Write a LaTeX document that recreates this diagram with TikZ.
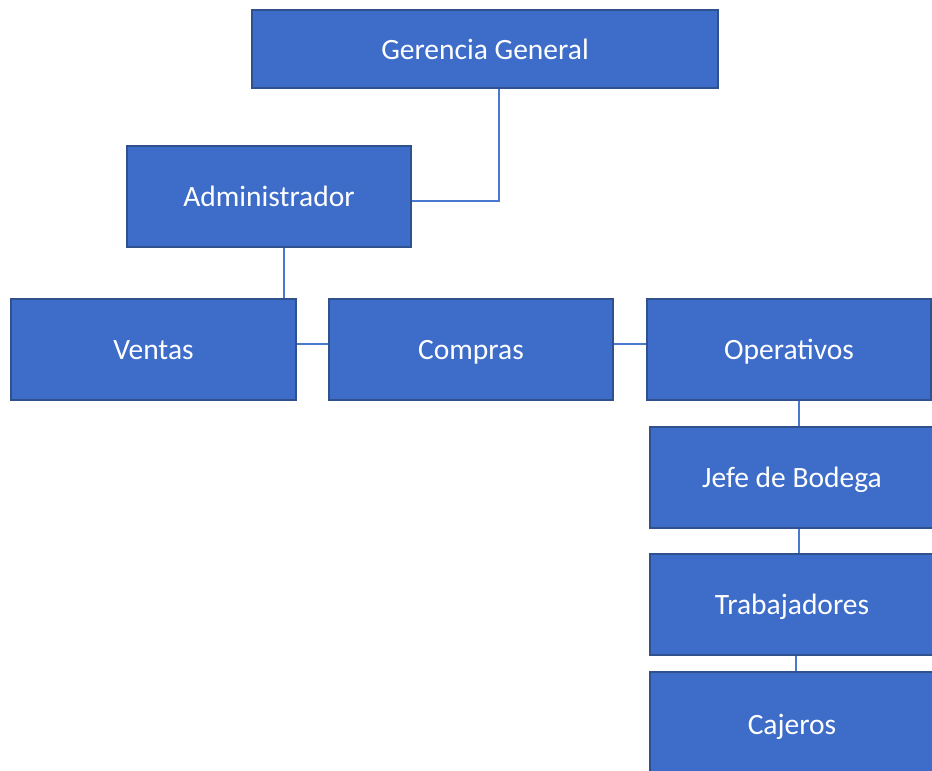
\documentclass[tikz,border=0pt]{standalone}
\usepackage{fontspec}
\setmainfont{Carlito}

\definecolor{boxfill}{HTML}{3D6CC9}
\definecolor{boxline}{HTML}{2F528F}
\definecolor{linkline}{HTML}{4A78CF}

\begin{document}
\begin{tikzpicture}[x=1pt, y=1pt,
    puesto/.style={rectangle, draw=boxline, line width=2pt, fill=boxfill,
      text=white, font=\fontsize{29.5}{34}\selectfont,
      text height=24pt, text depth=4pt,
      minimum width=284pt, minimum height=101pt, inner sep=0pt},
    enlace/.style={draw=linkline, line width=1.3pt}]
  \useasboundingbox (0, 0) rectangle (932, -771);
  \clip (0, 0) rectangle (932, -771);

  \node[puesto, minimum width=466pt, minimum height=78pt] (gerencia) at (485, -49) {Gerencia General};
  \node[puesto] (admin) at (269, -196.5) {Administrador};
  \node[puesto, minimum width=285pt] (ventas) at (153.5, -349) {Ventas};
  \node[puesto] (compras) at (471, -349) {Compras};
  \node[puesto] (operativos) at (789, -349) {Operativos};
  \node[puesto] (jefe) at (792, -477.5) {Jefe de Bodega};
  \node[puesto] (trabajadores) at (792, -604) {Trabajadores};
  \node[puesto, minimum height=104pt] (cajeros) at (792, -724) {Cajeros};

  \draw[enlace] ([xshift=14pt]gerencia.south) |- ([yshift=-4.5pt]admin.east);
  \draw[enlace] ([xshift=15pt]admin.south) -- ([xshift=15pt]admin.south |- ventas.north);
  \draw[enlace] ([yshift=5pt]ventas.east) -- ([yshift=5pt]compras.west);
  \draw[enlace] ([yshift=5pt]compras.east) -- ([yshift=5pt]operativos.west);
  \draw[enlace] ([xshift=10pt]operativos.south) -- ([xshift=10pt]operativos.south |- jefe.north);
  \draw[enlace] ([xshift=7pt]jefe.south) -- ([xshift=7pt]jefe.south |- trabajadores.north);
  \draw[enlace] ([xshift=4pt]trabajadores.south) -- ([xshift=4pt]trabajadores.south |- cajeros.north);

\end{tikzpicture}
\end{document}
